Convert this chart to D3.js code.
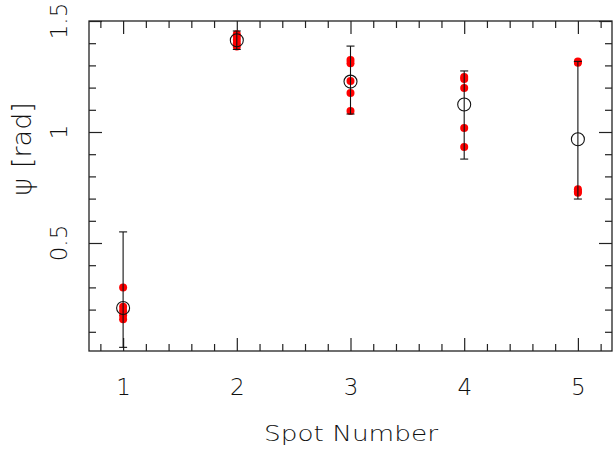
<!DOCTYPE html>
<html>
<head>
<meta charset="utf-8">
<script src="https://cdn.jsdelivr.net/npm/d3@7"></script>
<style>
  html, body { margin: 0; padding: 0; background: #fff; }
  svg text { font-family: "DejaVu Sans", "Liberation Sans", sans-serif; font-weight: 200; fill: #111; }
</style>
</head>
<body>
<svg id="chart" width="614" height="450"></svg>
<script>
// ---- data ----
const spots = [1, 2, 3, 4, 5];
const meanValues = [0.207, 1.413, 1.227, 1.124, 0.967];
const errLow  = [0.030, 1.372, 1.081, 0.878, 0.698];
const errHigh = [0.550, 1.455, 1.387, 1.275, 1.318];
const spot1Points = [0.300, 0.213, 0.195, 0.175, 0.157];
const spot2Points = [1.440, 1.430, 1.415, 1.400, 1.385];
const spot3Points = [1.324, 1.310, 1.230, 1.176, 1.095];
const spot4Points = [1.248, 1.239, 1.198, 1.018, 0.932];
const spot5Points = [1.318, 1.312, 0.742, 0.732, 0.726];
const xTickLabels = ["1", "2", "3", "4", "5"];
const yTickValues = [0.5, 1, 1.5];
const yTickLabels = ["0.5", "1", "1.5"];
const xLabel = "Spot Number";
const yLabelSymbol = "ψ";
const yLabelUnit = "[rad]";

// ---- layout ----
const svg = d3.select("#chart");
const mLeft = 89, mRight = 612, mTop = 21, mBottom = 351;
const x = d3.scaleLinear().domain([0.7, 5.3]).range([mLeft, mRight]);
const y = d3.scaleLinear().domain([0.0135, 1.5]).range([mBottom, mTop]);

const allPoints = [spot1Points, spot2Points, spot3Points, spot4Points, spot5Points];

// minor tick values
const xMinor = d3.range(0.8, 5.21, 0.2).map(v => +v.toFixed(2)).filter(v => Math.abs(v - Math.round(v)) > 1e-6);
const yMinor = d3.range(0.1, 1.41, 0.1).map(v => +v.toFixed(2)).filter(v => Math.abs(v * 2 - Math.round(v * 2)) > 1e-6);

function styleAxis(g) {
  g.select(".domain").remove();
  g.selectAll(".tick line").attr("stroke", "#222").attr("stroke-width", 1.2);
}

// bottom axis (major with labels)
svg.append("g").attr("transform", `translate(0,${mBottom})`)
  .call(d3.axisBottom(x).tickValues(spots).tickSize(-13).tickPadding(28)
    .tickFormat((d, i) => xTickLabels[i]))
  .call(styleAxis)
  .call(g => g.selectAll("text").attr("font-size", 23).attr("dy", "0.71em")
    .style("font-family", "DejaVu Sans").style("font-weight", 200).attr("fill", "#111"));
svg.append("g").attr("transform", `translate(0,${mBottom})`)
  .call(d3.axisBottom(x).tickValues(xMinor).tickSize(-7).tickFormat(""))
  .call(styleAxis);
// top axis
svg.append("g").attr("transform", `translate(0,${mTop})`)
  .call(d3.axisTop(x).tickValues(spots).tickSize(-13).tickFormat(""))
  .call(styleAxis);
svg.append("g").attr("transform", `translate(0,${mTop})`)
  .call(d3.axisTop(x).tickValues(xMinor).tickSize(-7).tickFormat(""))
  .call(styleAxis);
// left axis
svg.append("g").attr("transform", `translate(${mLeft},0)`)
  .call(d3.axisLeft(y).tickValues(yTickValues).tickSize(-13).tickFormat(""))
  .call(styleAxis);
svg.append("g").attr("transform", `translate(${mLeft},0)`)
  .call(d3.axisLeft(y).tickValues(yMinor).tickSize(-7).tickFormat(""))
  .call(styleAxis);
// right axis
svg.append("g").attr("transform", `translate(${mRight},0)`)
  .call(d3.axisRight(y).tickValues(yTickValues).tickSize(-13).tickFormat(""))
  .call(styleAxis);
svg.append("g").attr("transform", `translate(${mRight},0)`)
  .call(d3.axisRight(y).tickValues(yMinor).tickSize(-7).tickFormat(""))
  .call(styleAxis);

// rotated y tick labels
svg.append("g").selectAll("text").data(yTickValues).join("text")
  .attr("transform", d => `translate(67,${y(d)}) rotate(-90)`)
  .attr("text-anchor", "middle")
  .attr("font-size", 23)
  .text((d, i) => yTickLabels[i]);

// frame
svg.append("rect").attr("x", mLeft).attr("y", mTop)
  .attr("width", mRight - mLeft).attr("height", mBottom - mTop)
  .attr("fill", "none").attr("stroke", "#222").attr("stroke-width", 1.3);

// axis titles
svg.append("text").attr("x", (mLeft + mRight) / 2 + 0.5).attr("y", 441)
  .attr("text-anchor", "middle").attr("font-size", 22)
  .attr("textLength", 174).attr("lengthAdjust", "spacingAndGlyphs")
  .text(xLabel);
const yl = svg.append("text").attr("transform", "translate(31,149) rotate(-90)")
  .attr("text-anchor", "middle").attr("font-size", 27);
yl.append("tspan").text(yLabelSymbol);
yl.append("tspan").attr("dx", 10).text(yLabelUnit);

// red individual points
const flat = [];
allPoints.forEach((arr, i) => arr.forEach(v => flat.push({ s: spots[i], v })));
svg.append("g").selectAll("circle").data(flat).join("circle")
  .attr("cx", d => x(d.s)).attr("cy", d => y(d.v)).attr("r", 4)
  .attr("fill", "#ff0000");

// error bars
const eb = svg.append("g").attr("stroke", "#111").attr("stroke-width", 1.1);
eb.selectAll("line.v").data(spots).join("line").attr("class", "v")
  .attr("x1", d => x(d)).attr("x2", d => x(d))
  .attr("y1", (d, i) => y(errLow[i])).attr("y2", (d, i) => y(errHigh[i]));
eb.selectAll("line.lo").data(spots).join("line").attr("class", "lo")
  .attr("x1", d => x(d) - 4).attr("x2", d => x(d) + 4)
  .attr("y1", (d, i) => y(errLow[i])).attr("y2", (d, i) => y(errLow[i]));
eb.selectAll("line.hi").data(spots).join("line").attr("class", "hi")
  .attr("x1", d => x(d) - 4).attr("x2", d => x(d) + 4)
  .attr("y1", (d, i) => y(errHigh[i])).attr("y2", (d, i) => y(errHigh[i]));

// mean open circles
svg.append("g").selectAll("circle").data(spots).join("circle")
  .attr("cx", d => x(d)).attr("cy", (d, i) => y(meanValues[i])).attr("r", 6.5)
  .attr("fill", "none").attr("stroke", "#111").attr("stroke-width", 1.1);
</script>
</body>
</html>
